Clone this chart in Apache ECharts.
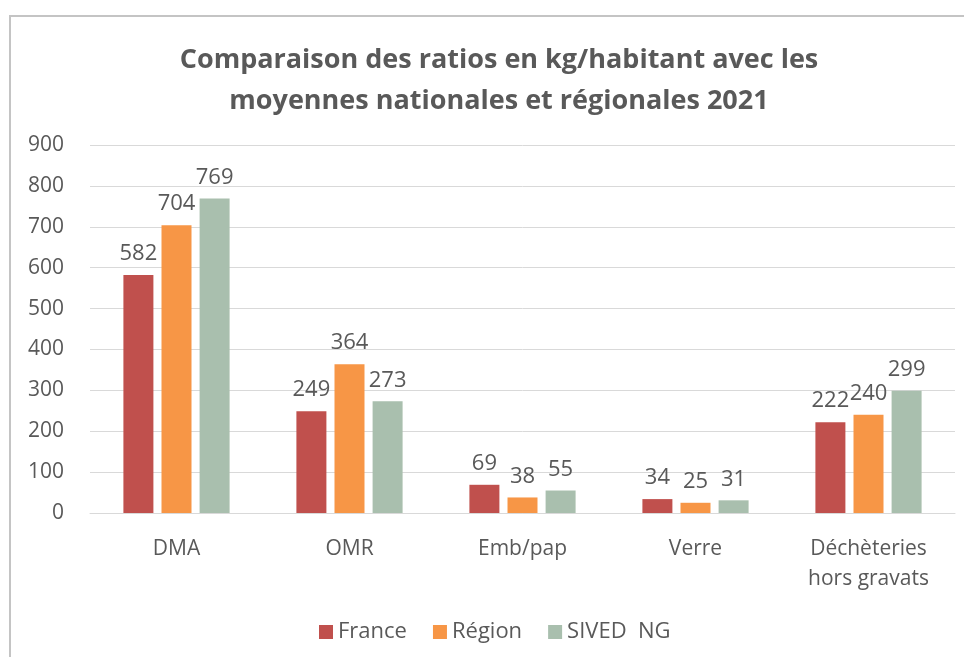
<!DOCTYPE html>
<html><head><meta charset="utf-8">
<script src="https://cdn.jsdelivr.net/npm/echarts@6/dist/echarts.min.js"></script>
<style>html,body{margin:0;padding:0;background:#fff}#c{width:964px;height:657px}</style>
</head><body><div id="c"></div>
<script>
const categories = ['DMA', 'OMR', 'Emb/pap', 'Verre', 'Déchèteries\nhors gravats'];
const seriesNames = ['France', 'Région', 'SIVED  NG'];
const france = [582, 249, 69, 34, 222];
const region = [704, 364, 38, 25, 240];
const sived = [769, 273, 55, 31, 299];
const yTicks = { min: 0, max: 900, interval: 100 };
const colors = ['#C0504D', '#F79646', '#A9BFAE'];
const titleText = 'Comparaison des ratios en kg/habitant avec les\nmoyennes nationales et régionales 2021';

const font = 'Open Sans';
const txt = '#595959';
const chart = echarts.init(document.getElementById('c'));
const values = [france, region, sived];
chart.setOption({
  animation: false,
  color: colors,
  graphic: [{ type: 'rect', shape: { x: 10, y: 16, width: 1000, height: 700 }, style: { fill: 'none', stroke: '#c4c4c4', lineWidth: 2 }, z: -1 }],
  title: {
    text: titleText, left: 494, textAlign: 'center', top: 35,
    textStyle: { fontFamily: font, fontWeight: 'bold', fontSize: 27, color: txt, lineHeight: 41 }
  },
  legend: {
    bottom: 9, left: 314, itemWidth: 14, itemHeight: 14, itemGap: 26, icon: 'rect',
    textStyle: { fontFamily: font, fontSize: 22, color: txt }
  },
  grid: { left: 90, right: 9, top: 145, bottom: 144, containLabel: false },
  xAxis: {
    type: 'category', data: categories,
    axisLine: { lineStyle: { color: '#d9d9d9', width: 1 } },
    axisTick: { show: false },
    axisLabel: { fontFamily: font, fontSize: 21, color: txt, margin: 21, lineHeight: 30, interval: 0 }
  },
  yAxis: {
    type: 'value', min: yTicks.min, max: yTicks.max, interval: yTicks.interval,
    axisLine: { show: false }, axisTick: { show: false },
    splitLine: { lineStyle: { color: '#d9d9d9', width: 1 } },
    axisLabel: { fontFamily: font, fontSize: 21, color: txt, margin: 26 }
  },
  series: seriesNames.map((n, i) => ({
    name: n, type: 'bar', data: values[i], barWidth: 30, barGap: '27%',
    label: { show: true, position: 'top', distance: 10, fontFamily: font, fontSize: 22, color: txt }
  }))
});
</script></body></html>
